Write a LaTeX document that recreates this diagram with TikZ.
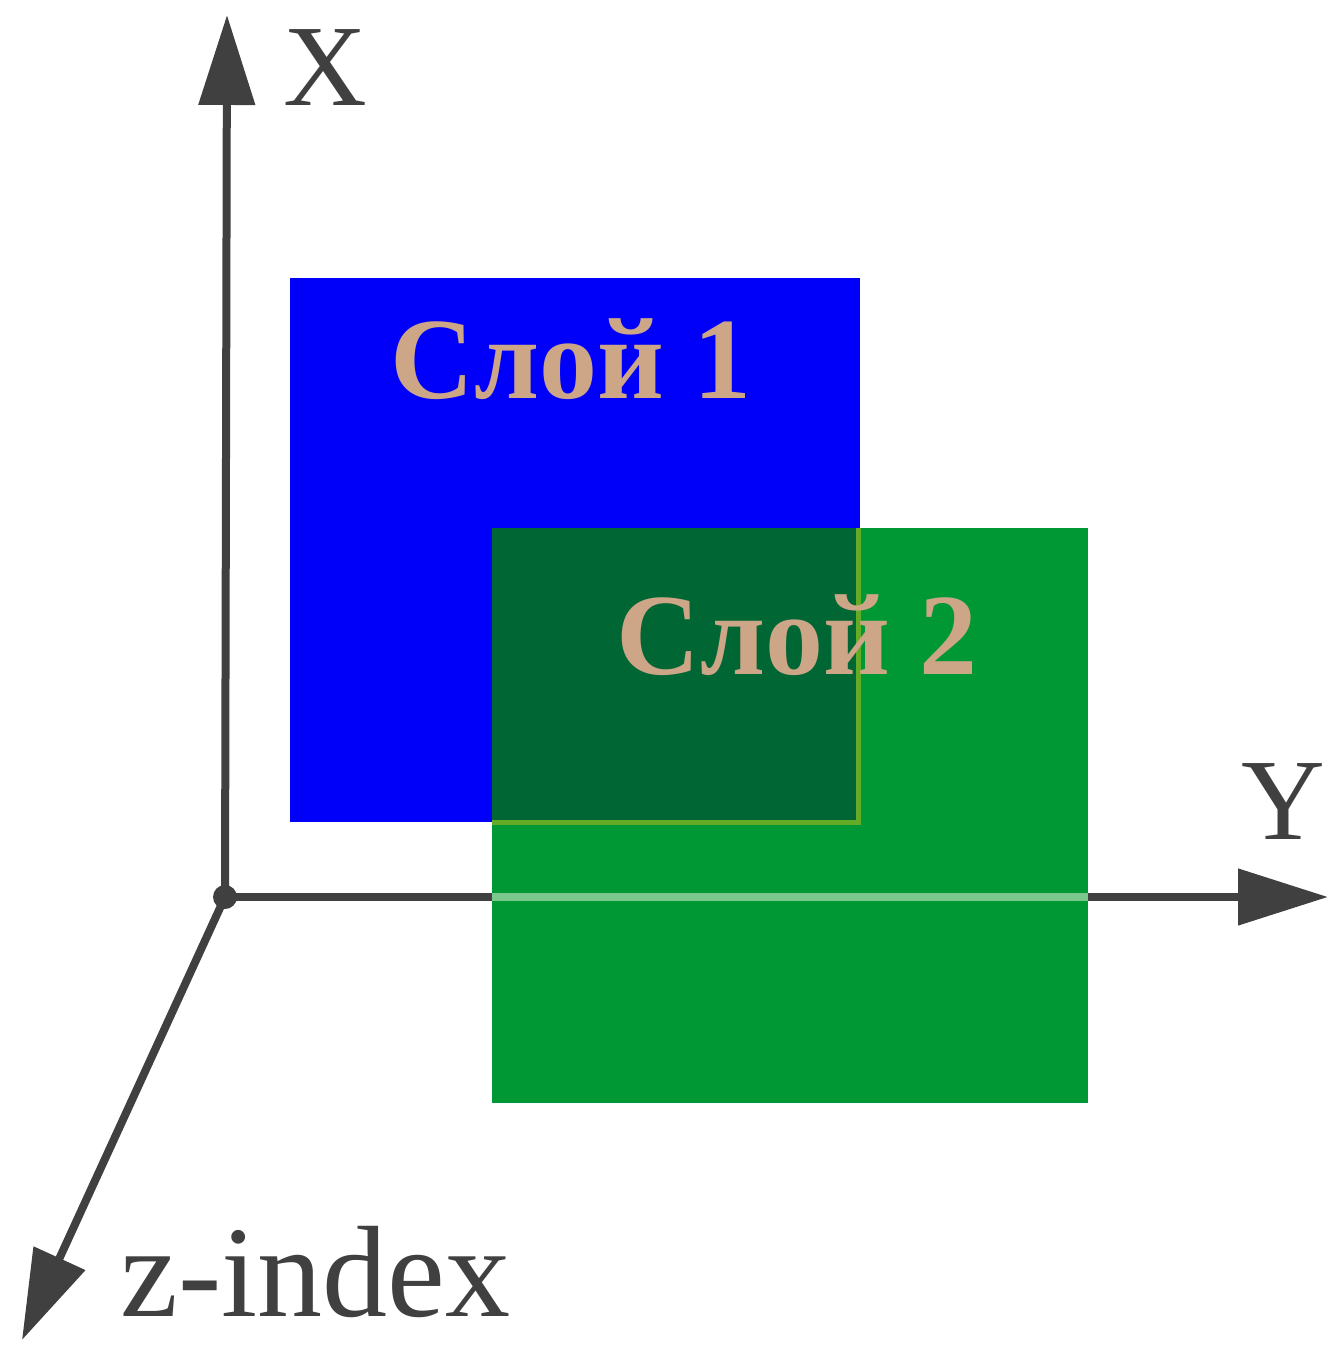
\documentclass[tikz,border=0pt]{standalone}
\usepackage{fontspec}
\setmainfont{Liberation Serif}
\usepackage{tikz}
\usetikzlibrary{arrows.meta,positioning}

\definecolor{axisgray}{RGB}{64,64,64}
\definecolor{layerblue}{RGB}{0,0,250}
\definecolor{layergreen}{RGB}{0,152,52}
\definecolor{overlapgreen}{RGB}{0,102,52}
\definecolor{layertan}{RGB}{205,165,135}
\definecolor{seeaxis}{RGB}{122,200,140}
\definecolor{seeedge}{RGB}{100,172,40}

\begin{document}
\begin{tikzpicture}[
  x=0.1mm, y=-0.1mm,
  axis/.style={draw=axisgray, line width=0.8mm, -{Triangle[length=9mm, width=5.5mm]}},
  axlabel/.style={text=axisgray, inner sep=0pt, font=\fontsize{33}{36}\selectfont},
  layerlabel/.style={text=layertan, inner sep=0pt, font=\bfseries\fontsize{33}{38}\selectfont}
]
\useasboundingbox (0,0) rectangle (1331,1345);

% axes
\coordinate (o) at (225,897);
\coordinate (xend) at (227,15);
\coordinate (yend) at (1328,897);
\coordinate (zend) at (22,1340);
\draw[axis] (o) -- (xend);
\draw[axis] (o) -- (yend);
\draw[axis] (o) -- (zend);
\fill[axisgray] (o) circle (1.2mm);

% layers
\fill[layerblue] (290,278) rectangle (860,822);
\fill[layergreen] (492,528) rectangle (1088,1103);
\fill[overlapgreen] (492,528) rectangle (858,822);
\draw[seeedge, line width=0.5mm] (858,528) -- (858,822) -- (492,822);
\draw[seeaxis, line width=0.8mm] (492,897) -- (1088,897);

% labels
\node[axlabel] (xlab) at (325,68) {X};
\node[axlabel] (ylab) at (1283,802) {Y};
\node[axlabel, anchor=base west, font=\fontsize{37}{40}\selectfont] (zlab) at (120,1316) {z-index};
\node[layerlabel, anchor=base] (l1) at (571,399) {Слой 1};
\node[layerlabel, anchor=base] (l2) at (797,674) {Слой 2};
\end{tikzpicture}
\end{document}
